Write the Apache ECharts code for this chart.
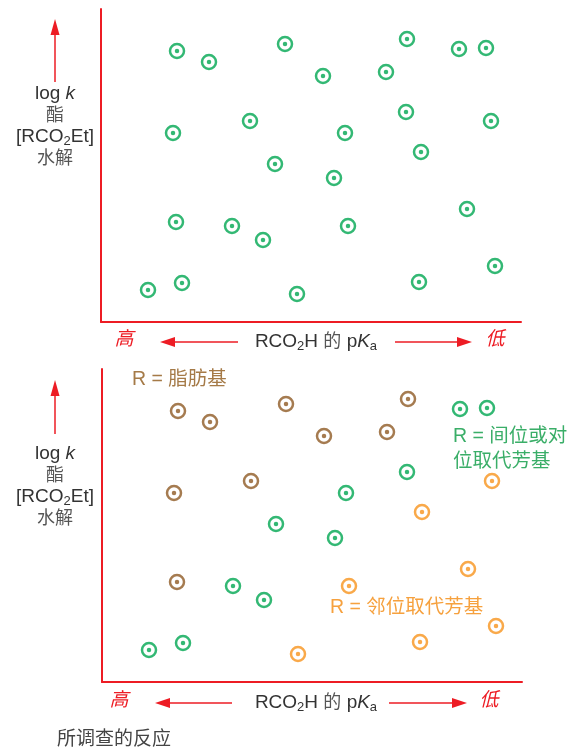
<!DOCTYPE html>
<html>
<head>
<meta charset="utf-8">
<script src="https://cdn.jsdelivr.net/npm/echarts@6/dist/echarts.min.js"></script>
<style>
  html, body { margin: 0; padding: 0; background: #fff; }
  #chart { width: 572px; height: 750px; }
</style>
</head>
<body>
<div id="chart"></div>
<script>
// point positions, arbitrary units (x: acidity of RCO2H, y: log k)
var xs = [76, 108, 184, 222, 285, 306, 358, 385, 72, 149, 244, 305, 390, 174, 233, 320, 75, 131, 162, 247, 366, 47, 81, 196, 318, 394];
var ys = [271, 260, 278, 246, 250, 283, 273, 274, 189, 201, 189, 210, 201, 158, 144, 170, 100, 96, 82, 96, 113, 32, 39, 28, 40, 56];
// R group of each point (lower panel)
var groups = ['ali', 'ali', 'ali', 'ali', 'ali', 'ali', 'mp', 'mp', 'ali', 'ali', 'mp', 'mp', 'o',
              'mp', 'mp', 'o', 'ali', 'mp', 'mp', 'o', 'o', 'mp', 'mp', 'o', 'o', 'o'];

var RED = '#ed1c24';
var GREEN = '#00a651';
var colors = { ali: '#8f5a24', mp: GREEN, o: '#f7941d' };
var FONT = '"Liberation Sans", "Noto Sans CJK SC", sans-serif';

function ringData(colorOf) {
    return xs.map(function (x, i) {
        return { value: [x, ys[i]], itemStyle: { color: '#fff', borderColor: colorOf(i), borderWidth: 2.5 } };
    });
}
function dotData(colorOf) {
    return xs.map(function (x, i) {
        return { value: [x, ys[i]], itemStyle: { color: colorOf(i) } };
    });
}
var allGreen = function () { return GREEN; };
var byGroup = function (i) { return colors[groups[i]]; };

function axisX(idx) {
    return {
        gridIndex: idx, type: 'value', min: 0, max: 420,
        axisLine: { show: true, onZero: false, lineStyle: { color: RED, width: 2 } },
        axisTick: { show: false }, axisLabel: { show: false }, splitLine: { show: false }
    };
}
function axisY(idx) {
    return {
        gridIndex: idx, type: 'value', min: 0, max: 313,
        axisLine: { show: true, onZero: false, lineStyle: { color: RED, width: 2 } },
        axisTick: { show: false }, axisLabel: { show: false }, splitLine: { show: false }
    };
}

// annotation helpers
function hArrow(x1, x2, y) {
    var dir = x2 > x1 ? 1 : -1;
    return [
        { type: 'line', shape: { x1: x1, y1: y, x2: x2 - dir * 10, y2: y }, style: { stroke: RED, lineWidth: 1.5 } },
        { type: 'polygon', shape: { points: [[x2, y], [x2 - dir * 15, y - 5], [x2 - dir * 15, y + 5]] }, style: { fill: RED } }
    ];
}
function vArrow(x, y1, y2) {
    return [
        { type: 'line', shape: { x1: x, y1: y1, x2: x, y2: y2 + 10 }, style: { stroke: RED, lineWidth: 1.5 } },
        { type: 'polygon', shape: { points: [[x, y2], [x - 4.5, y2 + 16], [x + 4.5, y2 + 16]] }, style: { fill: RED } }
    ];
}
function txt(x, y, text, opts) {
    var s = Object.assign({
        text: text, x: x, y: y, fill: '#333', font: '19px ' + FONT,
        align: 'center', verticalAlign: 'middle'
    }, opts || {});
    return { type: 'text', style: s };
}
var subRich = {
    sub: { fontSize: 13, fill: '#333', verticalAlign: 'bottom', padding: [9, 0, 0, 0], fontFamily: FONT },
    it: { fontStyle: 'italic', fontSize: 19, fill: '#333', fontFamily: FONT },
    cn: { fontSize: 18, fill: '#555', fontFamily: FONT }
};
function yLabel(top) {
    return [
        txt(55, top, 'log {it|k}', { rich: subRich }),
        txt(55, top + 22, '酯', { fill: '#555', font: '18px ' + FONT }),
        txt(55, top + 43, '[RCO{sub|2}Et]', { rich: subRich }),
        txt(55, top + 65, '水解', { fill: '#555', font: '18px ' + FONT })
    ];
}
function xLabel(y, hiX, l1, l2, r1, r2, loX) {
    return [
        txt(hiX, y - 2, '高', { fill: RED, font: 'italic 19px ' + FONT }),
        txt(316, y, 'RCO{sub|2}H {cn|的} p{it|K}{sub|a}', { rich: subRich }),
        txt(loX, y - 2, '低', { fill: RED, font: 'italic 19px ' + FONT })
    ].concat(hArrow(l1, l2, y), hArrow(r1, r2, y));
}

var graphic = [].concat(
    vArrow(55, 82, 19), yLabel(94),
    vArrow(55, 434, 380), yLabel(454),
    xLabel(342, 124, 238, 160, 395, 472, 495),
    xLabel(703, 119, 232, 155, 389, 467, 489),
    [
        txt(132, 380, 'R = 脂肪基', { align: 'left', fill: '#a57a47', font: '19.5px ' + FONT }),
        txt(453, 437, 'R = 间位或对', { align: 'left', fill: '#3aae68', font: '19.5px ' + FONT }),
        txt(453, 462, '位取代芳基', { align: 'left', fill: '#3aae68', font: '19.5px ' + FONT }),
        txt(330, 608, 'R = 邻位取代芳基', { align: 'left', fill: '#f6a13e', font: '19.5px ' + FONT }),
        txt(57, 740, '所调查的反应', { align: 'left', fill: '#444', font: '19px ' + FONT })
    ]
);

var option = {
    backgroundColor: '#fff',
    animation: false,
    grid: [
        { left: 101, top: 9, width: 420, height: 313 },
        { left: 102, top: 369, width: 420, height: 313 }
    ],
    xAxis: [axisX(0), axisX(1)],
    yAxis: [axisY(0), axisY(1)],
    series: [
        { type: 'scatter', xAxisIndex: 0, yAxisIndex: 0, symbolSize: 14, data: ringData(allGreen) },
        { type: 'scatter', xAxisIndex: 0, yAxisIndex: 0, symbolSize: 4.5, data: dotData(allGreen) },
        { type: 'scatter', xAxisIndex: 1, yAxisIndex: 1, symbolSize: 14, data: ringData(byGroup) },
        { type: 'scatter', xAxisIndex: 1, yAxisIndex: 1, symbolSize: 4.5, data: dotData(byGroup) }
    ],
    graphic: graphic
};

var chart = echarts.init(document.getElementById('chart'));
chart.setOption(option);
window.onresize = chart.resize;
</script>
</body>
</html>
